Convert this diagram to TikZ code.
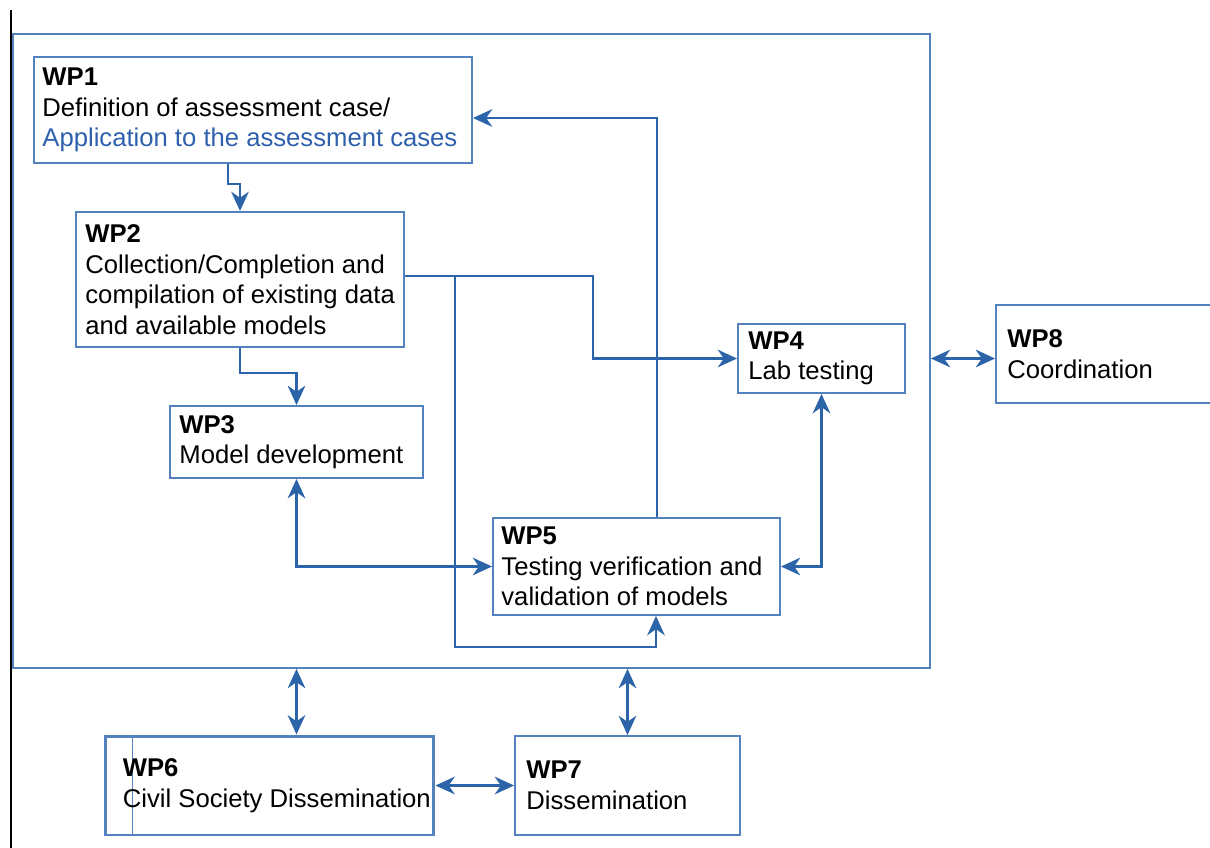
\documentclass[tikz,border=0pt]{standalone}
\usepackage{fontspec}
\setmainfont{Liberation Sans}
\usetikzlibrary{arrows.meta}
\definecolor{boxblue}{RGB}{84,130,190}
\definecolor{linkblue}{RGB}{44,100,170}
\definecolor{textblue}{RGB}{46,96,172}
\tikzset{
  wpbox/.style={draw=boxblue, line width=1.1pt, inner sep=0pt},
  wptext/.style={anchor=west, align=left, inner sep=0pt, font=\fontsize{14.6}{17.4}\selectfont},
  link/.style={draw=linkblue, line width=1.5pt, -{Stealth[length=11pt,width=10pt,inset=3.5pt]}},
  link2/.style={link, {Stealth[length=11pt,width=10pt,inset=3.5pt]}-{Stealth[length=11pt,width=10pt,inset=3.5pt]}},
}
\begin{document}
\begin{tikzpicture}[x=0.02cm, y=-0.02cm]
\useasboundingbox (0,0) rectangle (1210,848);
% left rule and outer frame
\draw[black, line width=0.8pt] (11,10) -- (11,848);
\node[wpbox, minimum width=18.34cm, minimum height=12.68cm] (frame) at (471.5,351) {};
%% Work packages
\node[wpbox, minimum width=8.76cm, minimum height=2.12cm] (wp1) at (253,110) {};
\node[wpbox, minimum width=6.56cm, minimum height=2.7cm] (wp2) at (240,279.5) {};
\node[wpbox, minimum width=5.06cm, minimum height=1.44cm] (wp3) at (296.5,442) {};
\node[wpbox, minimum width=3.34cm, minimum height=1.38cm] (wp4) at (821.5,358.5) {};
\node[wpbox, minimum width=5.74cm, minimum height=1.94cm] (wp5) at (636.5,566.5) {};
\node[wpbox, line width=1.7pt, minimum width=6.58cm, minimum height=1.98cm] (wp6) at (269.5,785.5) {};
\node[wpbox, minimum width=4.5cm, minimum height=1.98cm] (wp7) at (627.5,785.5) {};
\node[wpbox, minimum width=4.38cm, minimum height=1.96cm] (wp8) at (1105.5,354) {};
\draw[boxblue, very thin] ([xshift=0.58cm]wp6.north west) -- ([xshift=0.58cm]wp6.south west);
%% Texts
\node[wptext] (wp1text) at ([xshift=0.18cm]wp1.west) {\textbf{WP1}\\Definition of assessment case/\\\textcolor{textblue}{Application to the assessment cases}};
\node[wptext] (wp2text) at ([xshift=0.2cm]wp2.west) {\textbf{WP2}\\Collection/Completion and\\compilation of existing data\\and available models};
\node[wptext] (wp3text) at ([xshift=0.2cm]wp3.west) {\textbf{WP3}\\Model development};
\node[wptext] (wp4text) at ([xshift=0.22cm]wp4.west) {\textbf{WP4}\\Lab testing};
\node[wptext] (wp5text) at ([xshift=0.18cm]wp5.west) {\textbf{WP5}\\Testing verification and\\validation of models};
\node[wptext] (wp6text) at ([xshift=0.38cm]wp6.west) {\textbf{WP6}\\Civil Society Dissemination};
\node[wptext] (wp7text) at ([xshift=0.24cm]wp7.west) {\textbf{WP7}\\Dissemination};
\node[wptext] (wp8text) at ([xshift=0.24cm]wp8.west) {\textbf{WP8}\\Coordination};
%% Links
\coordinate (wp2split) at ([xshift=1cm,yshift=0.07cm]wp2.east);
\draw[link] ([xshift=-0.5cm]wp1.south) -- ++(0,20) -| (wp2.north);
\draw[link] (wp2.south) -- ++(0,25) -| (wp3.north);
\draw[link] ([yshift=0.07cm]wp2.east) -- ++(188,0) |- (wp4.west);
\draw[link] (wp2split) -- ++(0,371) -| ([xshift=0.39cm]wp5.south);
\draw[link] ([xshift=0.41cm]wp5.north) |- ([yshift=-0.16cm]wp1.east);
\draw[link2] (wp3.south) |- (wp5.west);
\draw[link2] (wp4.south) |- (wp5.east);
\draw[link2] (frame.east |- wp4.west) -- (wp8.west |- wp4.west);
\draw[link2] (frame.south -| wp3.south) -- (wp6.north -| wp3.south);
\draw[link2] (frame.south -| wp7.north) -- (wp7.north);
\draw[link2] (wp6.east) -- (wp7.west);
\end{tikzpicture}
\end{document}
